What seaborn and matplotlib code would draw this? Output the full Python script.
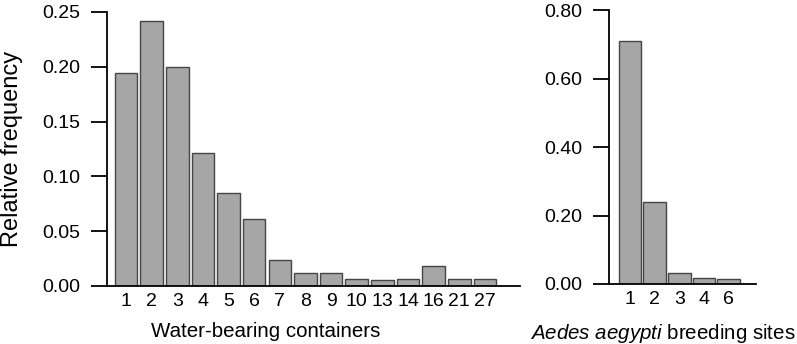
import matplotlib
matplotlib.use("Agg")
import matplotlib.pyplot as plt
import seaborn as sns
import pandas as pd

containers = ["1", "2", "3", "4", "5", "6", "7", "8", "9", "10", "13", "14", "16", "21", "27"]
container_freq = [0.194, 0.242, 0.200, 0.121, 0.085, 0.061, 0.024, 0.012, 0.012,
                  0.006, 0.0055, 0.006, 0.018, 0.006, 0.0064]

sites = ["1", "2", "3", "4", "6"]
site_freq = [0.710, 0.240, 0.031, 0.0175, 0.0156]

left_ticks = [0.00, 0.05, 0.10, 0.15, 0.20, 0.25]
right_ticks = [0.00, 0.20, 0.40, 0.60, 0.80]

sns.set_theme(style="white")
plt.rcParams['font.family'] = ['Liberation Sans', 'DejaVu Sans']
plt.rcParams['mathtext.fontset'] = 'custom'
plt.rcParams['mathtext.it'] = 'Liberation Sans:italic'
plt.rcParams['mathtext.rm'] = 'Liberation Sans'

W, H = 797, 344
fig = plt.figure(figsize=(W / 100, H / 100), dpi=100)
ax1 = fig.add_axes([107 / W, 1 - 286 / H, (520 - 107) / W, (286 - 12) / H])
ax2 = fig.add_axes([609 / W, 1 - 284 / H, (756 - 609) / W, (284 - 10.3) / H])

fill = "#a6a6a6"
edge = "#454545"

df1 = pd.DataFrame({"x": containers, "y": container_freq})
df2 = pd.DataFrame({"x": sites, "y": site_freq})

sns.barplot(data=df1, x="x", y="y", order=containers, color=fill, saturation=1,
            width=0.88, edgecolor=edge, linewidth=1.0, ax=ax1)
sns.barplot(data=df2, x="x", y="y", order=sites, color=fill, saturation=1,
            width=0.92, edgecolor=edge, linewidth=1.0, ax=ax2)

ax1.set_xlim(-0.74, 15.37)
ax1.set_ylim(0, 0.25)
ax1.set_yticks(left_ticks)
ax1.set_yticklabels([f"{t:.2f}" for t in left_ticks])
ax2.set_xlim(-0.85, 5.1)
ax2.set_ylim(0, 0.80)
ax2.set_yticks(right_ticks)
ax2.set_yticklabels([f"{t:.2f}" for t in right_ticks])

for ax in (ax1, ax2):
    for s in ("top", "right"):
        ax.spines[s].set_visible(False)
    for s in ("left", "bottom"):
        ax.spines[s].set_color("black")
        ax.spines[s].set_linewidth(1.3)
    ax.tick_params(axis="y", direction="out", length=11.5, width=1.3, color="black",
                   labelsize=14, pad=8, left=True, labelcolor="black")
    ax.tick_params(axis="x", length=0, labelsize=14, pad=5, labelcolor="black")
    ax.set_xlabel("")
    ax.set_ylabel("")

ax1.set_ylabel("Relative frequency", fontsize=17, color="black")
ax1.yaxis.set_label_coords(23 / W, 0.5, transform=fig.transFigure)
ax1.yaxis.label.set_transform(matplotlib.transforms.blended_transform_factory(
    fig.transFigure, ax1.transAxes))

fig.text(266 / W, 1 - 322 / H, "Water-bearing containers", fontsize=14.8,
         ha="center", va="top", color="black")
fig.text(796 / W, 1 - 322 / H, r"$\mathit{Aedes\ aegypti}$ breeding sites",
         fontsize=14.8, ha="right", va="top", color="black")

fig.savefig("out.png", dpi=100)
